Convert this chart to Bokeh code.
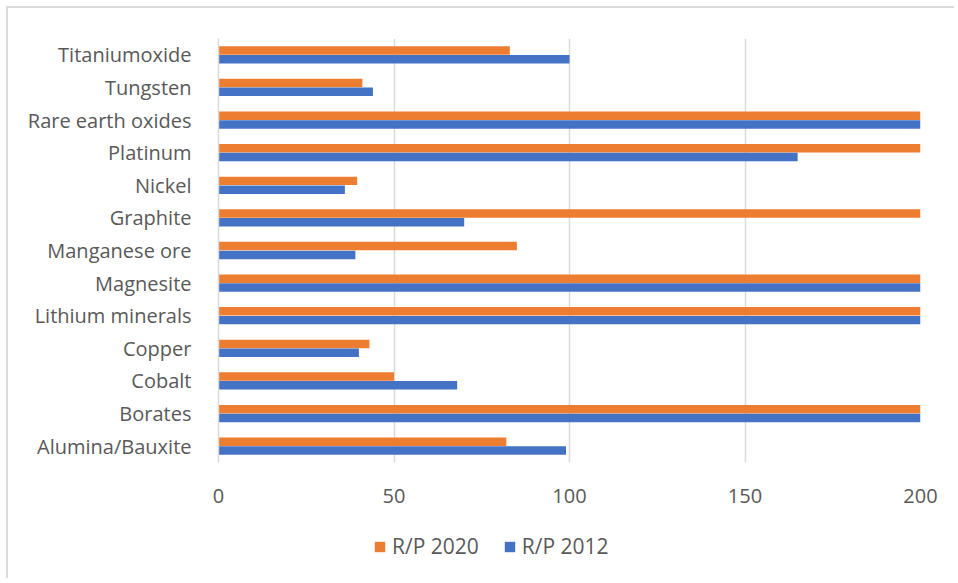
from bokeh.plotting import figure
from bokeh.layouts import column
from bokeh.models import ColumnDataSource, Range1d, FactorRange, Legend, LegendItem, FixedTicker
from bokeh.transform import dodge
from bokeh.embed import file_html
from bokeh.resources import INLINE

categories = ["Alumina/Bauxite", "Borates", "Cobalt", "Copper", "Lithium minerals",
              "Magnesite", "Manganese ore", "Graphite", "Nickel", "Platinum",
              "Rare earth oxides", "Tungsten", "Titaniumoxide"]
rp_2020 = [82, 201, 50, 43, 201, 201, 85, 201, 39.5, 201, 201, 41, 83]
rp_2012 = [99, 201, 68, 40, 201, 201, 39, 70, 36, 165, 201, 44, 100]
series_names = ["R/P 2020", "R/P 2012"]
x_ticks = [0, 50, 100, 150, 200]

ORANGE = "#ED7D31"
BLUE = "#4472C4"
GRID = "#D9D9D9"
TEXT = "#595959"
FONT = "Open Sans"

src = ColumnDataSource(dict(cat=categories, v2020=rp_2020, v2012=rp_2012))

W = 946
p = figure(width=W, height=514, output_backend="svg", toolbar_location=None,
           y_range=FactorRange(factors=categories, range_padding=0),
           x_range=Range1d(0, 200))
p.y_range.range_padding = 0
p.min_border_left = 210
p.min_border_top = 30
p.min_border_right = 34
p.min_border_bottom = 60
p.outline_line_color = None
p.background_fill_color = "white"
p.border_fill_color = "white"

bh = 0.26
p.hbar(y=dodge("cat", 0.135, range=p.y_range), right="v2020", left=0, height=bh,
       source=src, fill_color=ORANGE, line_color=None)
p.hbar(y=dodge("cat", -0.135, range=p.y_range), right="v2012", left=0, height=bh,
       source=src, fill_color=BLUE, line_color=None)

p.ygrid.grid_line_color = None
p.xgrid.grid_line_color = GRID
p.xgrid.grid_line_width = 1.5
p.xgrid.ticker = FixedTicker(ticks=x_ticks)

p.xaxis.ticker = FixedTicker(ticks=x_ticks)
p.xaxis.axis_line_color = None
p.xaxis.major_tick_line_color = None
p.xaxis.minor_tick_line_color = None
p.xaxis.major_label_standoff = 20
p.xaxis.major_label_text_font = FONT
p.xaxis.major_label_text_font_size = "20px"
p.xaxis.major_label_text_color = TEXT

p.yaxis.axis_line_color = GRID
p.yaxis.axis_line_width = 1.5
p.yaxis.major_tick_line_color = None
p.yaxis.minor_tick_line_color = None
p.yaxis.major_label_standoff = 21
p.yaxis.major_label_text_font = FONT
p.yaxis.major_label_text_font_size = "20px"
p.yaxis.major_label_text_color = TEXT

# legend strip below the chart (its frame is aligned with the chart's frame by the column)
pl = figure(width=W, height=56, output_backend="svg", toolbar_location=None,
            x_range=Range1d(0, 200), y_range=FactorRange(factors=categories),
            x_axis_location=None, y_axis_location=None, min_border=0)
pl.grid.grid_line_color = None
pl.outline_line_color = None
pl.border_fill_color = "white"
pl.background_fill_color = "white"
la = pl.hbar(y="cat", right="v2020", left=0, height=bh, source=src,
             fill_color=ORANGE, line_color=None, visible=False)
lb = pl.hbar(y="cat", right="v2012", left=0, height=bh, source=src,
             fill_color=BLUE, line_color=None, visible=False)

legend = Legend(items=[LegendItem(label=series_names[0], renderers=[la]),
                       LegendItem(label=series_names[1], renderers=[lb])],
                orientation="horizontal", location=(155, 18))
legend.padding = 0
legend.margin = 0
legend.spacing = 24
legend.border_line_color = None
legend.background_fill_alpha = 0
legend.inactive_fill_alpha = 0
legend.glyph_width = 13
legend.glyph_height = 13
legend.label_standoff = 6
legend.label_height = 20
legend.label_text_font = FONT
legend.label_text_font_size = "21px"
legend.label_text_color = TEXT
pl.add_layout(legend, "center")

lay = column(p, pl, spacing=0)
lay.styles = {"border-top": "2px solid #DCDCDC", "border-left": "2px solid #DCDCDC",
              "margin-left": "6px", "margin-top": "6px"}

open("out.html", "w").write(file_html(lay, INLINE))
